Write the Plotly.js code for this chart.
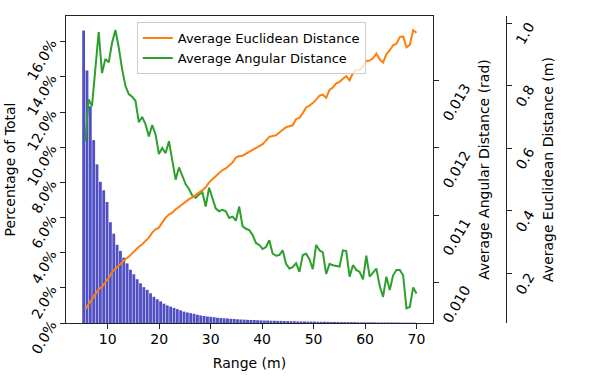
<!DOCTYPE html>
<html>
<head>
<meta charset="utf-8">
<script src="https://cdn.plot.ly/plotly-3.0.1.min.js"></script>
<style>
  html, body { margin: 0; padding: 0; background: #fff; }
  #chart { width: 598px; height: 379px; }
</style>
</head>
<body>
<div id="chart"></div>
<script>
(function() {
  'use strict';

  // histogram bins: 100 bins of 0.65 m starting at 5 m
  var binStart = 5, binWidth = 0.65;

  // percentage of total for each bin
  var pctTotal = [
    16.63, 14.36, 12.33, 10.40, 9.02, 8.03, 7.55, 6.88, 5.73, 5.08,
    4.45, 4.10, 3.72, 3.39, 3.03, 2.77, 2.49, 2.26, 2.04, 1.88,
    1.69, 1.49, 1.35, 1.23, 1.10, 1.00, 0.93, 0.86, 0.79, 0.72,
    0.65, 0.60, 0.56, 0.52, 0.47, 0.43, 0.40, 0.37, 0.35, 0.33,
    0.30, 0.28, 0.27, 0.26, 0.24, 0.23, 0.21, 0.20, 0.19, 0.18,
    0.17, 0.17, 0.16, 0.15, 0.14, 0.14, 0.13, 0.13, 0.12, 0.12,
    0.11, 0.11, 0.10, 0.10, 0.09, 0.09, 0.09, 0.08, 0.08, 0.08,
    0.07, 0.07, 0.07, 0.07, 0.06, 0.06, 0.06, 0.05, 0.05, 0.05,
    0.05, 0.05, 0.04, 0.04, 0.04, 0.04, 0.04, 0.04, 0.03, 0.03,
    0.03, 0.03, 0.03, 0.03, 0.03, 0.02, 0.02, 0.02, 0.02, 0.02
  ];

  // average euclidean distance (m) per bin
  var euclidean = [
    0.085, 0.101, 0.115, 0.133, 0.149, 0.157, 0.170, 0.186, 0.204, 0.215,
    0.226, 0.234, 0.245, 0.253, 0.264, 0.277, 0.285, 0.293, 0.303, 0.314,
    0.330, 0.341, 0.346, 0.362, 0.378, 0.388, 0.394, 0.404, 0.413, 0.422,
    0.429, 0.437, 0.443, 0.450, 0.458, 0.466, 0.475, 0.491, 0.501, 0.510,
    0.519, 0.530, 0.535, 0.546, 0.554, 0.570, 0.575, 0.576, 0.582, 0.589,
    0.595, 0.599, 0.605, 0.613, 0.624, 0.636, 0.639, 0.641, 0.650, 0.660,
    0.667, 0.670, 0.673, 0.693, 0.697, 0.712, 0.730, 0.736, 0.744, 0.755,
    0.768, 0.771, 0.761, 0.786, 0.794, 0.807, 0.812, 0.822, 0.830, 0.817,
    0.840, 0.851, 0.849, 0.860, 0.879, 0.880, 0.887, 0.902, 0.884, 0.874,
    0.900, 0.913, 0.929, 0.934, 0.955, 0.957, 0.922, 0.930, 0.977, 0.969
  ];

  // average angular distance (rad) per bin
  var angular = [
    0.01210, 0.01272, 0.01262, 0.01322, 0.01372, 0.01311, 0.01332, 0.01327, 0.01356, 0.01375,
    0.01349, 0.01317, 0.01292, 0.01280, 0.01276, 0.01270, 0.01238, 0.01246, 0.01235, 0.01217,
    0.01234, 0.01220, 0.01191, 0.01200, 0.01192, 0.01210, 0.01183, 0.01153, 0.01171, 0.01158,
    0.01146, 0.01139, 0.01129, 0.01126, 0.01131, 0.01134, 0.01113, 0.01141, 0.01124, 0.01110,
    0.01106, 0.01108, 0.01106, 0.01096, 0.01098, 0.01092, 0.01113, 0.01084, 0.01080, 0.01078,
    0.01071, 0.01059, 0.01056, 0.01050, 0.01053, 0.01063, 0.01043, 0.01040, 0.01041, 0.01048,
    0.01028, 0.01021, 0.01023, 0.01029, 0.01016, 0.01041, 0.01043, 0.01035, 0.01020, 0.01056,
    0.01048, 0.01045, 0.01013, 0.01028, 0.01026, 0.01025, 0.01024, 0.01048, 0.01047, 0.01009,
    0.01026, 0.01019, 0.01016, 0.01005, 0.01040, 0.01009, 0.01015, 0.01021, 0.00995, 0.00979,
    0.01009, 0.00989, 0.01011, 0.01019, 0.01019, 0.01011, 0.00962, 0.00964, 0.00993, 0.00984
  ];

  var binCenters = pctTotal.map(function(_, i) { return binStart + binWidth * (i + 0.5); });
  var binRight = pctTotal.map(function(_, i) { return binStart + binWidth * (i + 1); });

  var font = {family: 'DejaVu Sans, sans-serif', size: 14, color: '#000'};
  var legendFont = {family: 'DejaVu Sans, sans-serif', size: 13, color: '#000'};
  var axisLine = '#222';

  var data = [
    {
      type: 'bar',
      x: binCenters,
      y: pctTotal,
      marker: {color: 'rgba(5,4,170,0.7)', line: {width: 0}},
      showlegend: false,
      hoverinfo: 'x+y'
    },
    {
      type: 'scatter', mode: 'lines',
      x: binRight, y: euclidean,
      yaxis: 'y3',
      name: 'Average Euclidean Distance',
      line: {color: '#ff7f0e', width: 2}
    },
    {
      type: 'scatter', mode: 'lines',
      x: binRight, y: angular,
      yaxis: 'y2',
      name: 'Average Angular Distance',
      line: {color: '#2ca02c', width: 2}
    }
  ];

  var layout = {
    width: 598, height: 379,
    margin: {l: 66, r: 60, t: 16, b: 56},
    paper_bgcolor: '#fff', plot_bgcolor: '#fff',
    font: font,
    bargap: 0.15,
    showlegend: true,
    legend: {
      x: 0.150, y: 0.980, xanchor: 'left', yanchor: 'top',
      bgcolor: 'rgba(255,255,255,0.8)', bordercolor: '#ccc', borderwidth: 1,
      font: legendFont
    },
    xaxis: {
      domain: [0, 0.7775],
      range: [1.9, 73.2],
      tick0: 0, dtick: 10,
      ticks: 'outside', ticklen: 5, tickwidth: 1, tickcolor: axisLine,
      ticklabelstandoff: -2,
      showline: true, mirror: true, linecolor: axisLine, linewidth: 1,
      showgrid: false, zeroline: false,
      title: {text: 'Range (m)', font: font, standoff: 12},
      automargin: false
    },
    yaxis: {
      range: [0, 17.46],
      dtick: 2, tickformat: '.1f', ticksuffix: '%',
      tickangle: -60,
      ticks: 'outside', ticklen: 5, tickwidth: 1, tickcolor: axisLine,
      ticklabelstandoff: 6,
      showline: true, mirror: true, linecolor: axisLine, linewidth: 1,
      showgrid: false, zeroline: false,
      title: {text: 'Percentage of Total', font: font, standoff: 4},
      automargin: false
    },
    yaxis2: {
      overlaying: 'y', side: 'right', anchor: 'x',
      range: [0.009402, 0.013958],
      tick0: 0.010, dtick: 0.001, tickformat: '.3f',
      tickangle: -60,
      ticks: 'outside', ticklen: 5, tickwidth: 1, tickcolor: axisLine,
      ticklabelshift: 40, ticklabelstandoff: 3,
      showline: false,
      showgrid: false, zeroline: false,
      title: {text: 'Average Angular Distance (rad)', font: font, standoff: 6},
      automargin: false
    },
    yaxis3: {
      overlaying: 'y', side: 'right', anchor: 'free', position: 0.9322,
      range: [0.0413, 1.0224],
      dtick: 0.2, tickformat: '.1f',
      tickangle: -60,
      ticks: 'outside', ticklen: 5, tickwidth: 1, tickcolor: axisLine,
      ticklabelshift: 21, ticklabelstandoff: 3,
      showline: true, linecolor: axisLine, linewidth: 1,
      showgrid: false, zeroline: false,
      title: {text: 'Average Euclidean Distance (m)', font: font, standoff: 6},
      automargin: false
    }
  };

  Plotly.newPlot('chart', data, layout, {staticPlot: true, displayModeBar: false});
}());
</script>
</body>
</html>
